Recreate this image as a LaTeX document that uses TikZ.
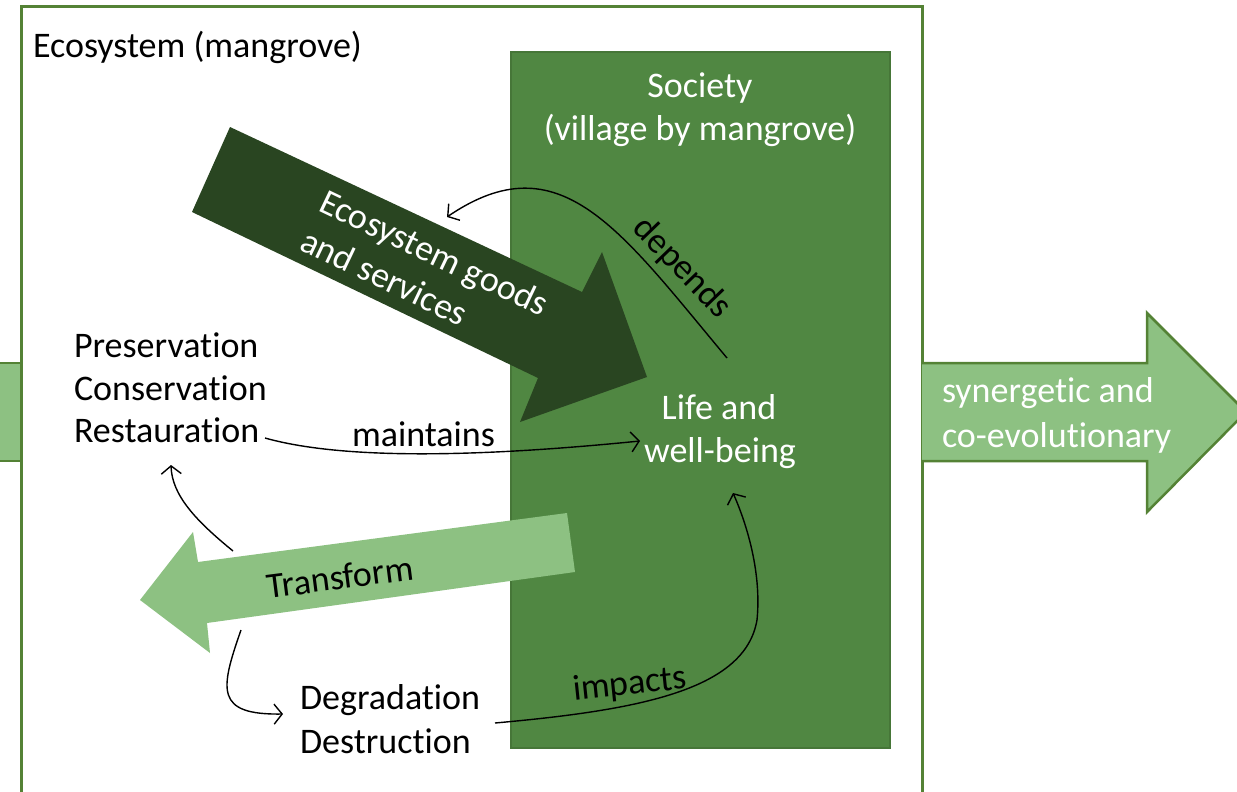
\documentclass[tikz,border=0pt]{standalone}
\usepackage{fontspec}
\setmainfont{Carlito}[Ligatures={NoCommon}]
\usetikzlibrary{arrows.meta}
\definecolor{boxgreen}{RGB}{84,130,53}
\definecolor{socgreen}{RGB}{80,135,66}
\definecolor{socedge}{RGB}{70,118,56}
\definecolor{darkarrow}{RGB}{41,69,33}
\definecolor{lightarrow}{RGB}{141,193,130}
\tikzset{
  lbl/.style={font=\fontsize{36}{43.5}\selectfont, inner sep=0pt, outer sep=0pt},
  wlbl/.style={lbl, text=white},
  conn/.style={line width=1.4pt, -{Straight Barb[length=8pt,width=20pt,line width=1.4pt]}},
  bigarrow/.style={fill=darkarrow},
  lightarr/.style={fill=lightarrow},
  frame/.style={draw=boxgreen, line width=3pt},
}
\begin{document}
\begin{tikzpicture}[x=1pt,y=-1pt]
\useasboundingbox (0,0) rectangle (1237,792);
\clip (0,0) rectangle (1237,792);
% left arrow stub
\fill[lightarrow] (-5,363) rectangle (21,461);
\draw[boxgreen,line width=2.5pt] (-5,363) -- (21,363) (-5,461) -- (21,461);
% outer ecosystem box
\draw[frame] (21,7) rectangle (922,830);
% right arrow
\draw[boxgreen, line width=2.5pt, lightarr] (922,363) -- (1147,363) -- (1147,313) -- (1246,412) -- (1147,512) -- (1147,461) -- (922,461);
% society box
\draw[fill=socgreen, draw=socedge, line width=1.5pt] (511,52) rectangle (890,748);
% dark arrow
\fill[bigarrow] (230,127) -- (582,292) -- (602,252) -- (647,377) -- (520,422) -- (538,378) -- (192,212) -- cycle;
% transform arrow
\fill[lightarr] (567,513) -- (575,572) -- (207,623) -- (210,653) -- (140,600) -- (193,532) -- (198,562) -- cycle;

% texts
\node[lbl, anchor=base west] (eco) at (33,58) {Ecosystem (mangrove)};
\node[wlbl, anchor=base] (soc1) at (700,97) {Society};
\node[wlbl, anchor=base] (soc2) at (700,140) {(village by mangrove)};
\node[wlbl, rotate=-25.5, align=left] (egs) at (425,272) {Ecosystem goods\\and services};
\node[lbl, rotate=-46] (dep) at (682,268) {depends};
\node[lbl, anchor=base west] (pres) at (74,357) {Preservation};
\node[lbl, anchor=base west] (cons) at (74,400) {Conservation};
\node[lbl, anchor=base west] (rest) at (74,442) {Restauration};
\node[lbl, anchor=base west] (maint) at (352,446) {maintains};
\node[wlbl, anchor=base] (life1) at (719,419) {Life and};
\node[wlbl, anchor=base] (life2) at (720,462) {well-being};
\node[lbl, rotate=7.3] (trans) at (340,577) {Transform};
\node[lbl, anchor=base west] (degr) at (300,709) {Degradation};
\node[lbl, anchor=base west] (dest) at (300,753) {Destruction};
\node[lbl, rotate=6] (imp) at (630,685) {impacts};
\node[wlbl, anchor=base west] (syn1) at (942,402) {synergetic and};
\node[wlbl, anchor=base west] (syn2) at (942,447) {co-evolutionary};

% connector end points
\coordinate (depS) at (727,358);
\coordinate (depE) at (447,217);
\coordinate (mS) at (265,438);
\coordinate (mE) at (640,441);
\coordinate (tUp) at (233,551);
\coordinate (rUp) at (171,465);
\coordinate (tDn) at (241,630);
\coordinate (dIn) at (283,714);
\coordinate (iS) at (495,723);
\coordinate (iM) at (757,620);
\coordinate (iE) at (733,493);

% connectors
\draw[conn] (depS) .. controls (620,230) and (560,140) .. (depE);
\draw[conn] (mS) .. controls (350,462) and (500,455) .. (mE);
\draw[conn] (tUp) .. controls (195,520) and (172,495) .. (rUp);
\draw[conn] (tDn) .. controls (220,690) and (215,715) .. (dIn);
\draw[conn] (iS) .. controls (640,710) and (745,690) .. (iM) .. controls (762,570) and (745,520) .. (iE);
\end{tikzpicture}
\end{document}
